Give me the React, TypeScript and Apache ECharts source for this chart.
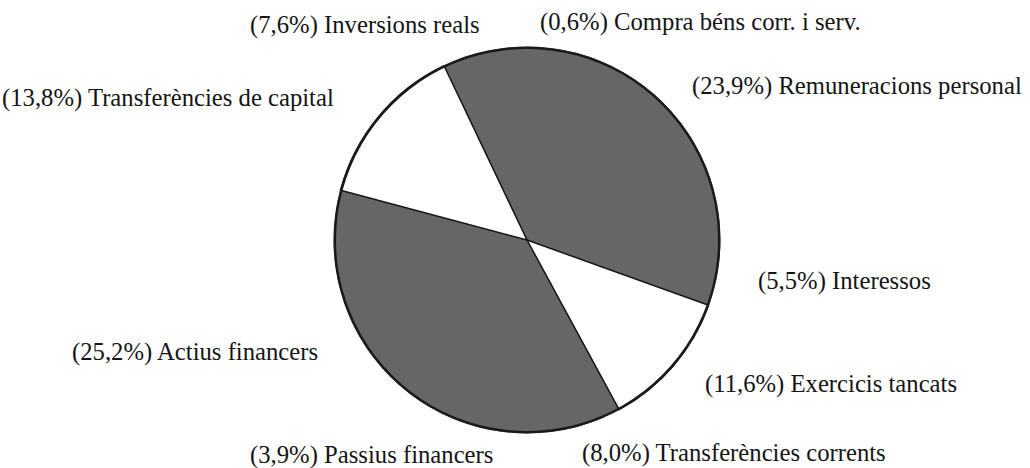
import React, { useEffect, useRef } from "react";
import * as echarts from "echarts";

// Budget shares (%), clockwise from the 3 o'clock edge of "Remuneracions personal"
const categories = [
  "Remuneracions personal",
  "Interessos",
  "Exercicis tancats",
  "Transferències corrents",
  "Passius financers",
  "Actius financers",
  "Transferències de capital",
  "Inversions reals",
  "Compra béns corr. i serv.",
];
const shares = [23.9, 5.5, 11.6, 8.0, 3.9, 25.2, 13.8, 7.6, 0.6];

// styling (kept apart from data)
const GREY = "#666666";
const WHITE = "#ffffff";
const sliceFills = [GREY, GREY, WHITE, GREY, GREY, GREY, WHITE, GREY, GREY];
// label anchor (left, middle) in px
const labelAnchors: [number, number][] = [
  [692, 85],
  [758, 280],
  [705, 383],
  [582, 452],
  [250, 454],
  [72, 351],
  [2, 97],
  [250, 24],
  [540, 21],
];

function fmt(v: number) {
  return v.toFixed(1).replace(".", ",");
}

export default function App() {
  const ref = useRef<HTMLDivElement>(null);
  useEffect(() => {
    document.body.style.margin = "0";
    const chart = echarts.init(ref.current!, null, { renderer: "svg" });
    const total = shares.reduce((a, b) => a + b, 0);
    const remDeg = (shares[0] / total) * 360;
    const center = [527, 240];
    const R = 193;
    chart.setOption({
      animation: false,
      backgroundColor: "#ffffff",
      series: [
        {
          type: "pie",
          center,
          radius: [0, R],
          startAngle: remDeg,
          clockwise: true,
          avoidLabelOverlap: false,
          silent: true,
          data: categories.map((name, i) => ({
            name,
            value: shares[i],
            itemStyle: {
              color: sliceFills[i],
              borderColor: sliceFills[i],
              borderWidth: sliceFills[i] === WHITE ? 0 : 1,
            },
          })),
          label: {
            show: true,
            position: "outside",
            formatter: (p: any) => `(${fmt(p.value)}%) ${p.name}`,
            fontFamily: "Liberation Serif",
            fontSize: 24.7,
            color: "#141414",
          },
          labelLine: { show: false },
          labelLayout: (p: any) => ({
            x: labelAnchors[p.dataIndex][0],
            y: labelAnchors[p.dataIndex][1],
            align: "left",
            verticalAlign: "middle",
          }),
        },
        {
          type: "pie",
          center,
          radius: [0, R],
          startAngle: remDeg,
          clockwise: true,
          silent: true,
          label: { show: false },
          labelLine: { show: false },
          data: categories.map((name, i) => ({
            name,
            value: shares[i],
            itemStyle: {
              color: "rgba(0,0,0,0)",
              borderColor: "#151515",
              borderWidth: sliceFills[i] === WHITE ? 1.5 : 0,
            },
          })),
        },
        {
          type: "pie",
          center,
          radius: [R - 2, R + 0.5],
          silent: true,
          label: { show: false },
          labelLine: { show: false },
          itemStyle: { color: "#1a1a1a", borderWidth: 0 },
          data: [{ name: "outline", value: 1 }],
        },
      ],
    });
    return () => chart.dispose();
  }, []);
  return <div ref={ref} style={{ width: 1030, height: 468 }} />;
}
